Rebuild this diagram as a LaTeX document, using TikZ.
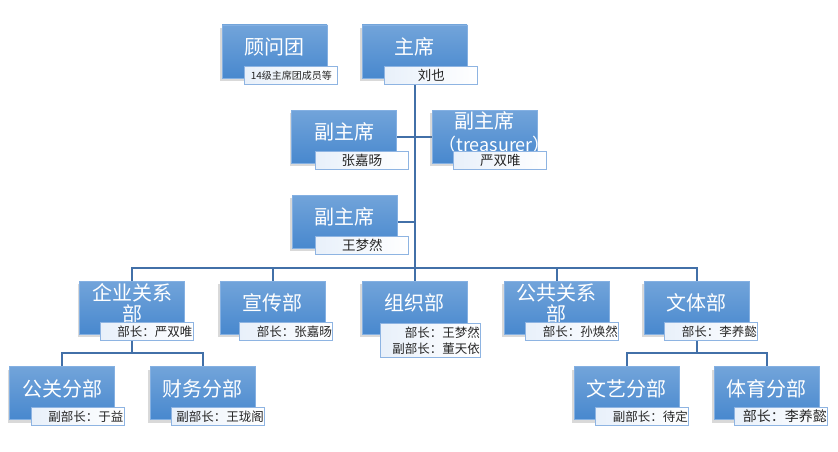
\documentclass[tikz,border=0pt]{standalone}
\usepackage{fontspec}
\setmainfont{Noto Sans CJK SC}
\usetikzlibrary{shadows,backgrounds}

\definecolor{boxtop}{RGB}{114,164,218}
\definecolor{boxbot}{RGB}{72,136,206}
\definecolor{boxrim}{RGB}{132,176,226}
\definecolor{tagrim}{RGB}{142,180,226}
\definecolor{tagfill}{RGB}{232,240,250}
\definecolor{linkblue}{RGB}{66,112,168}

\tikzset{
  unitbox/.style={rectangle, top color=boxtop, bottom color=boxbot, draw=boxrim, line width=0.6pt,
    minimum width=105pt, minimum height=53pt, inner sep=0pt, text=white, align=center,
    text height=16pt, text depth=10pt, font=\fontsize{20pt}{21pt}\selectfont,
    drop shadow={shadow xshift=-2pt, shadow yshift=-3pt, opacity=0.3}},
  twoline/.style={text height=38.6pt, text depth=10.4pt},
  tagbox/.style={rectangle, left color=tagfill, right color=white, draw=tagrim, line width=1pt,
    anchor=north east, inner xsep=1pt, inner ysep=0pt, minimum height=18pt, text width=91pt,
    align=center, text=black!85, font=\fontsize{13.5pt}{16pt}\selectfont},
  tagright/.style={tagbox, align=right, font=\fontsize{12.5pt}{16pt}\selectfont},
  link/.style={draw=linkblue, line width=2pt}
}

\begin{document}
\begin{tikzpicture}[x=1pt, y=-1pt]
    \useasboundingbox (0,0) rectangle (838,452);

    % Vertice
    \node[unitbox] (guwen) at (274.5,51.5) {顾问团};
    \node[tagbox, font=\fontsize{10pt}{12pt}\selectfont] (guwen-tag) at ([xshift=11pt,yshift=12pt]guwen.south east) {14级主席团成员等};
    \node[unitbox] (zhuxi) at (414.5,51.5) {主席};
    \node[tagbox] (zhuxi-tag) at ([xshift=11pt,yshift=12pt]zhuxi.south east) {刘也};

    % Vicepresidenti
    \node[unitbox] (fu1) at (344,136.5) {副主席};
    \node[tagbox] (fu1-tag) at ([xshift=12pt,yshift=12pt]fu1.south east) {张嘉旸};
    \node[unitbox, twoline, text height=40.6pt] (fu2) at (484.5,136.5) {副主席\\[2pt]\makebox[0pt]{\hspace*{20pt}\fontsize{18pt}{21pt}\selectfont（treasurer）}};
    \node[tagbox] (fu2-tag) at ([xshift=10pt,yshift=12pt]fu2.south east) {严双唯};
    \node[unitbox] (fu3) at (344.5,221.5) {副主席};
    \node[tagbox] (fu3-tag) at ([xshift=12pt,yshift=12pt]fu3.south east) {王梦然};

    % Dipartimenti
    \node[unitbox, twoline] (qiye) at (132,307.5) {企业关系\\部};
    \node[tagright] (qiye-tag) at ([xshift=9pt,yshift=12pt]qiye.south east) {部长：严双唯};
    \node[unitbox] (xuanchuan) at (272.5,307.5) {宣传部};
    \node[tagright] (xuanchuan-tag) at ([xshift=8pt,yshift=12pt]xuanchuan.south east) {部长：张嘉旸};
    \node[unitbox] (zuzhi) at (414.5,307.5) {组织部};
    \node[tagright, text width=98pt, minimum height=34pt] (zuzhi-tag) at ([xshift=14pt,yshift=11pt]zuzhi.south east) {部长：王梦然\\副部长：董天依};
    \node[unitbox, twoline] (gonggong) at (556.5,307.5) {公共关系\\部};
    \node[tagright] (gonggong-tag) at ([xshift=10pt,yshift=12pt]gonggong.south east) {部长：孙焕然};
    \node[unitbox] (wenti) at (696.5,307.5) {文体部};
    \node[tagright] (wenti-tag) at ([xshift=9pt,yshift=12pt]wenti.south east) {部长：李养懿};

    % Sottodipartimenti
    \node[unitbox] (gongguan) at (62,393) {公关分部};
    \node[tagright] (gongguan-tag) at ([xshift=10pt,yshift=13pt]gongguan.south east) {副部长：于益};
    \node[unitbox] (caiwu) at (202.5,393) {财务分部};
    \node[tagright] (caiwu-tag) at ([xshift=10pt,yshift=13pt]caiwu.south east) {副部长：王珑阁};
    \node[unitbox] (wenyi) at (626.5,393) {文艺分部};
    \node[tagright] (wenyi-tag) at ([xshift=10pt,yshift=13pt]wenyi.south east) {副部长：待定};
    \node[unitbox] (tiyu) at (766.5,393) {体育分部};
    \node[tagright, font=\fontsize{14pt}{16pt}\selectfont] (tiyu-tag) at ([xshift=9pt,yshift=13pt]tiyu.south east) {部长：李养懿};

    % Collegamenti
    \coordinate (bus) at (414.5,268);
    \coordinate (qbus) at (132,353);
    \coordinate (wbus) at (696.5,353);
    \begin{pgfonlayer}{background}
        \draw[link] (zhuxi.south) -- (bus);
        \draw[link] (fu1.east) -- (fu1.east -| bus);
        \draw[link] (fu2.west) -- (fu2.west -| bus);
        \draw[link] (fu3.east) -- (fu3.east -| bus);
        \draw[link] (bus) -| (qiye.north);
        \draw[link] (bus) -| (xuanchuan.north);
        \draw[link] (bus) -- (zuzhi.north);
        \draw[link] (bus) -| (gonggong.north);
        \draw[link] (bus) -| (wenti.north);
        \draw[link] (qiye.south) -- (qbus);
        \draw[link] (qbus) -| (gongguan.north);
        \draw[link] (qbus) -| (caiwu.north);
        \draw[link] (wenti.south) -- (wbus);
        \draw[link] (wbus) -| (wenyi.north);
        \draw[link] (wbus) -| (tiyu.north);
    \end{pgfonlayer}
\end{tikzpicture}
\end{document}
